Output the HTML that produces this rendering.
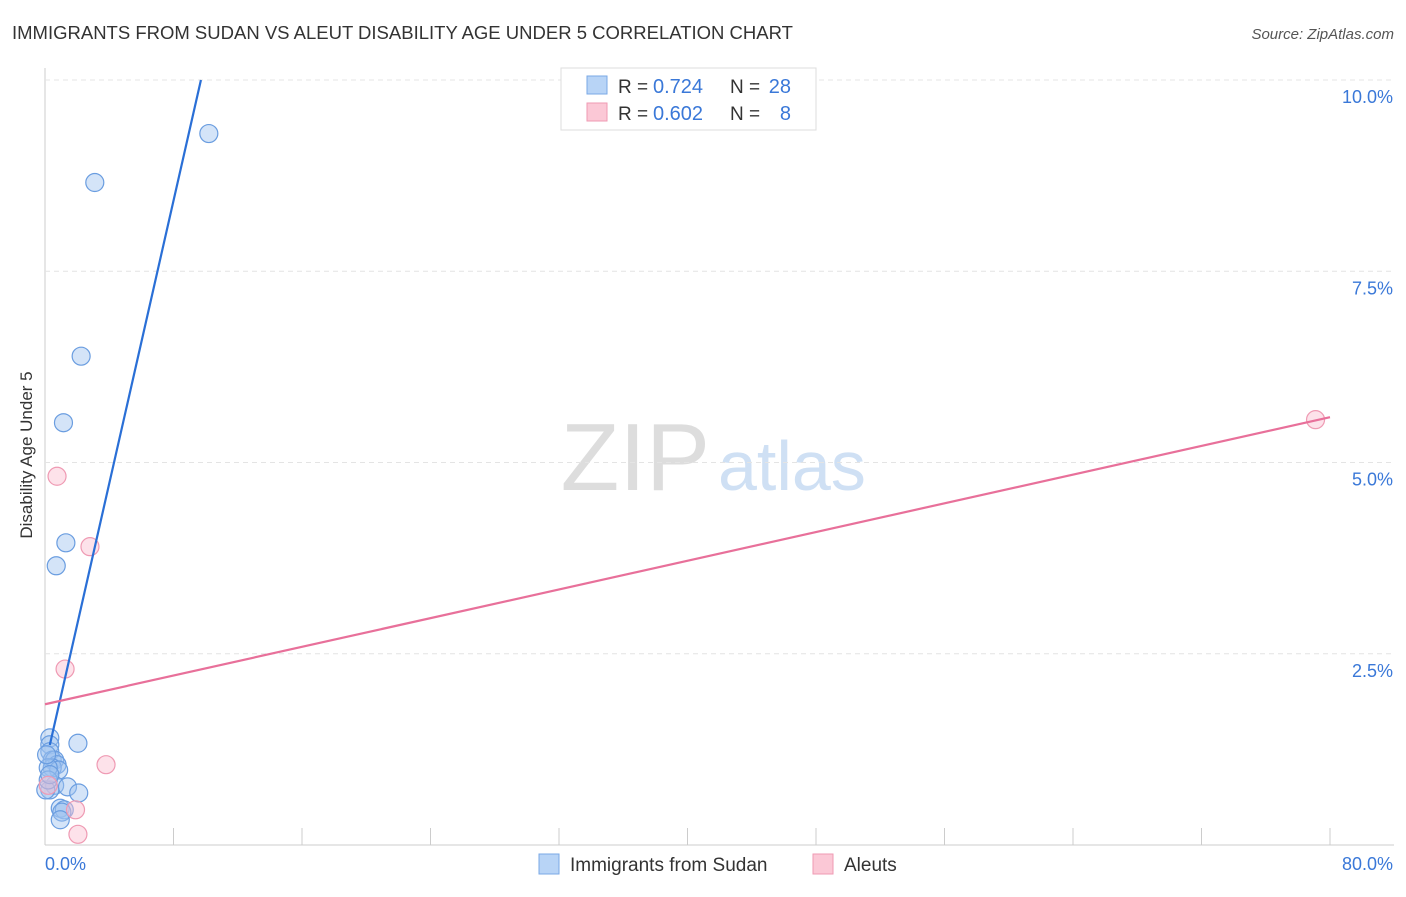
<!DOCTYPE html>
<html><head><meta charset="utf-8"><style>
body{margin:0;background:#fff;font-family:"Liberation Sans",sans-serif}
svg text{font-family:"Liberation Sans",sans-serif}
</style></head><body>
<svg id="c" width="1406" height="892">
<text x="12" y="39" font-size="18.5" fill="#333">IMMIGRANTS FROM SUDAN VS ALEUT DISABILITY AGE UNDER 5 CORRELATION CHART</text>
<text x="1394" y="39" font-size="15" fill="#555" text-anchor="end" font-style="italic">Source: ZipAtlas.com</text>
<text x="32" y="455" font-size="17" fill="#333" transform="rotate(-90 32 455)" text-anchor="middle">Disability Age Under 5</text>
<text x="710" y="490" font-size="96" fill="#ddd" text-anchor="end" font-family="Liberation Serif">ZIP</text>
<text x="718" y="490" font-size="70" fill="#cfe0f4">atlas</text>
<g id="grid"></g><g id="marks"></g>
<g>
<rect x="561" y="68" width="255" height="62" fill="#fff" stroke="#ddd"/>
<rect x="587" y="76" width="20" height="18" fill="#b8d4f6" stroke="#7aa8e6"/>
<rect x="587" y="103" width="20" height="18" fill="#fbc8d6" stroke="#ef9ab3"/>
<text x="618" y="93" font-size="19" fill="#333">R =</text>
<text x="653" y="93" font-size="20" fill="#3a78d8">0.724</text>
<text x="730" y="93" font-size="19" fill="#333">N =</text>
<text x="791" y="93" font-size="20" fill="#3a78d8" text-anchor="end">28</text>
<text x="618" y="120" font-size="19" fill="#333">R =</text>
<text x="653" y="120" font-size="20" fill="#3a78d8">0.602</text>
<text x="730" y="120" font-size="19" fill="#333">N =</text>
<text x="791" y="120" font-size="20" fill="#3a78d8" text-anchor="end">8</text>
</g>
<g>
<rect x="539" y="854" width="20" height="20" fill="#b8d4f6" stroke="#7aa8e6"/>
<text x="570" y="871" font-size="19" fill="#333">Immigrants from Sudan</text>
<rect x="813" y="854" width="20" height="20" fill="#fbc8d6" stroke="#ef9ab3"/>
<text x="844" y="871" font-size="19" fill="#333">Aleuts</text>
</g>
</svg>
<script>
const yTicks=[2.5,5,7.5,10];
const yTickLabels=["2.5%","5.0%","7.5%","10.0%"];
const xTickLabels=["0.0%","80.0%"];
const blueX=[10.2,3.1,2.25,1.15,1.3,0.7,2.05,0.3,0.3,0.3,0.45,0.6,0.75,0.45,0.85,0.2,0.6,1.4,2.1,0.3,0.95,1.2,1.05,0.95,0.05,0.2,0.3,0.1];
const blueY=[9.3,8.66,6.39,5.52,3.95,3.65,1.33,1.4,1.31,1.22,1.11,1.11,1.05,1.01,0.98,1.01,0.78,0.76,0.68,0.72,0.48,0.46,0.43,0.33,0.72,0.85,0.92,1.18];
const pinkX=[79.1,0.75,2.8,1.25,3.8,1.9,2.05,0.2];
const pinkY=[5.56,4.82,3.9,2.3,1.05,0.46,0.14,0.78];
const blueLine=[1.03,0.924]; const pinkLine=[1.84,0.0469];
const X=v=>45+v/80*1285, Y=v=>845-v*76.5;
const ns="http://www.w3.org/2000/svg";
function mk(t,a,p){const e=document.createElementNS(ns,t);for(const k in a)e.setAttribute(k,a[k]);p.appendChild(e);return e;}
const g=document.getElementById('grid'), m=document.getElementById('marks');
let ax=mk('line',{x1:45,y1:68,x2:45,y2:845,stroke:'#ccc'},g);


let bx=mk('line',{x1:45,y1:845,x2:1394,y2:845,stroke:'#ccc'},g);


for(let i=1;i<=10;i++){const x=45+i*128.5;const t=mk('line',{x1:x,y1:828,x2:x,y2:845,stroke:'#ccc'},g);

}
yTicks.forEach((v,i)=>{const l=mk('line',{x1:45,y1:Y(v),x2:1394,y2:Y(v),stroke:'#e4e4e4','stroke-dasharray':'5,4'},g);


const t=mk('text',{x:1393,y:Y(v)+23,'font-size':18,fill:'#3a78d8','text-anchor':'end'},g);t.textContent=yTickLabels[i];

});
[[45,'start',0],[1393,'end',1]].forEach(([x,a,i])=>{const t=mk('text',{x:x,y:870,'font-size':18,fill:'#3a78d8','text-anchor':a},g);t.textContent=xTickLabels[i];

});
blueX.forEach((v,i)=>{const c=mk('circle',{cx:X(v),cy:Y(blueY[i]),r:9,fill:'rgba(160,195,240,0.45)',stroke:'#6a9de0','stroke-width':1.2},m);

});
pinkX.forEach((v,i)=>{const c=mk('circle',{cx:X(v),cy:Y(pinkY[i]),r:9,fill:'rgba(250,190,208,0.45)',stroke:'#ef9ab3','stroke-width':1.2},m);

});
const bEnd=(10-blueLine[0])/blueLine[1];
const bl=mk('line',{x1:X(0.3),y1:Y(blueLine[0]+0.3*blueLine[1]),x2:X(bEnd),y2:Y(10),stroke:'#2a6fd6','stroke-width':2.2},m);


const pl=mk('line',{x1:X(0),y1:Y(pinkLine[0]),x2:X(80),y2:Y(pinkLine[0]+80*pinkLine[1]),stroke:'#e8709a','stroke-width':2.2},m);


</script>
</body></html>
